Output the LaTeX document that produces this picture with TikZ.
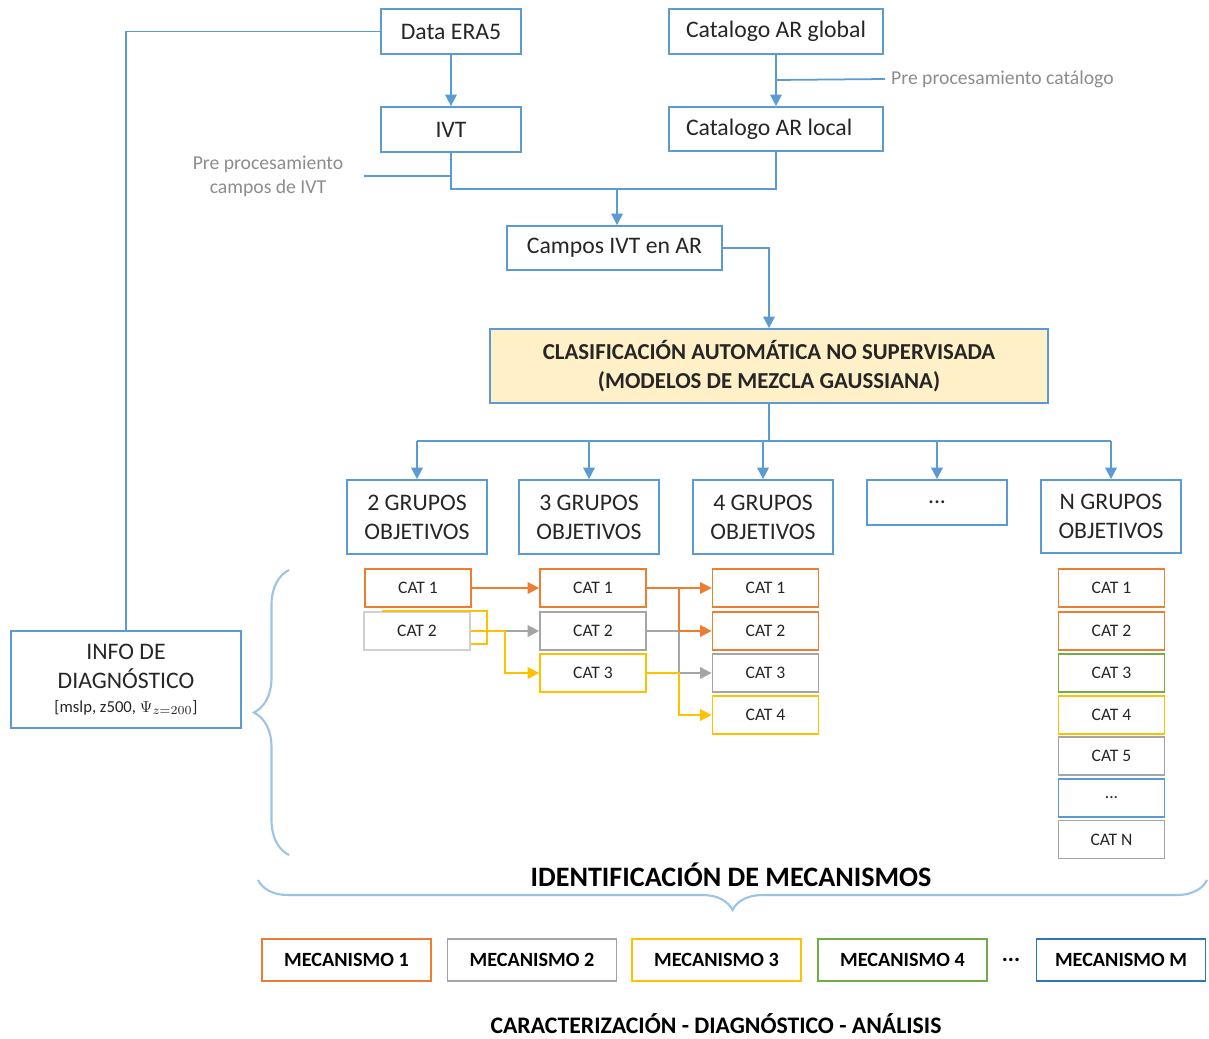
\documentclass[tikz,border=0pt]{standalone}
\usepackage{fontspec}
\setmainfont{Carlito}
\usetikzlibrary{arrows.meta,decorations.pathreplacing,calc}
\definecolor{lblue}{HTML}{5B9BD5}
\definecolor{bblue}{HTML}{9DC3E6}
\definecolor{corg}{HTML}{ED7D31}
\definecolor{cgray}{HTML}{A5A5A5}
\definecolor{lgray}{HTML}{D0D0D0}
\definecolor{cyel}{HTML}{FFC000}
\definecolor{cgrn}{HTML}{70AD47}
\definecolor{cdblue}{HTML}{2E75B6}
\definecolor{yfill}{HTML}{FFF0C8}
\definecolor{txt}{HTML}{262626}
\definecolor{notegray}{HTML}{8C8C8C}

\begin{document}
\begin{tikzpicture}[x=0.02cm,y=-0.02cm,
    >={Triangle[width=6.5pt,length=6.5pt]},
    box/.style={draw=lblue,line width=1pt,inner sep=0pt,align=center,text=txt,font=\fontsize{13.5}{16.5}\selectfont},
    cat/.style={draw=#1,line width=1pt,inner sep=0pt,minimum width=2.12cm,minimum height=0.76cm,text=txt,font=\fontsize{10}{12}\selectfont},
    mech/.style={draw=#1,line width=1pt,inner sep=0pt,minimum width=3.38cm,minimum height=0.84cm,text=black,font=\bfseries\fontsize{11.5}{13}\selectfont},
    wire/.style={draw=lblue,line width=1pt},
    flow/.style={line width=1pt,->},
    note/.style={text=notegray,align=center,font=\fontsize{11.2}{13.7}\selectfont},
    bracket/.style={draw=bblue,line width=1.2pt,decorate},
]
    \useasboundingbox (0,0) rectangle (1209,1038);
    % Input chain
    \node[box,minimum width=2.8cm,minimum height=0.9cm] (era) at (451,31.5) {Data ERA5};
    \node[box,minimum width=4.28cm,minimum height=0.9cm] (catg) at (776,31.5) {Catalogo AR global};
    \node[box,minimum width=2.8cm,minimum height=0.9cm] (ivt) at (451,129.5) {IVT};
    \node[box,minimum width=4.28cm,minimum height=0.88cm,text width=3.6cm,align=flush left] (catl) at (776,129) {Catalogo AR local};
    \node[box,minimum width=4.3cm,minimum height=0.88cm] (campos) at (614.5,248) {Campos IVT en AR};
    \node[note,anchor=west] (precat) at (885,79) {Pre procesamiento catálogo};
    \node[note] (preivt) at (268,176) {Pre procesamiento\\campos de IVT};
    \coordinate (cpre) at (776,80);
    \coordinate (civt) at (451,176);
    \coordinate (join) at (617,189);
    \draw[wire,flow] (era) -- (ivt);
    \draw[wire,flow] (catg) -- (catl);
    \draw[wire] (cpre) -- (precat.west);
    \draw[wire] (ivt.south) |- (join);
    \draw[wire] (catl.south) |- (join);
    \draw[wire] (civt) -- ([xshift=0.3cm]preivt.east);
    \draw[wire,flow] (join) -- (join |- campos.north);
    % Classification
    \node[box,fill=yfill,minimum width=11.16cm,minimum height=1.48cm,font=\bfseries\fontsize{13}{16.5}\selectfont] (gmm) at (769,366) {CLASIFICACIÓN AUTOMÁTICA NO SUPERVISADA\\(MODELOS DE MEZCLA GAUSSIANA)};
    \draw[wire,flow] (campos.east) -| (gmm.north);
    % Groups
    \node[box,minimum width=2.8cm,minimum height=1.48cm] (g2) at (417,517) {2 GRUPOS\\OBJETIVOS};
    \node[box,minimum width=2.8cm,minimum height=1.48cm] (g3) at (589,517) {3 GRUPOS\\OBJETIVOS};
    \node[box,minimum width=2.8cm,minimum height=1.48cm] (g4) at (763,517) {4 GRUPOS\\OBJETIVOS};
    \node[box,minimum width=2.8cm,minimum height=0.9cm] (gd) at (937,502.5) {...};
    \node[box,minimum width=2.8cm,minimum height=1.46cm] (gN) at (1111,516.5) {N GRUPOS\\OBJETIVOS};
    \coordinate (bus) at (769,441);
    \draw[wire] (gmm.south) -- (bus);
    \draw[wire] (bus -| g2.north) -- (bus -| gN.north);
    \foreach \g in {g2,g3,g4,gd,gN}
        \draw[wire,flow] (bus -| \g.north) -- (\g.north);
    % Categories
    \node[cat=corg] (a1) at (418,588) {CAT 1};
    \node[cat=lgray] (a2) at (417,631) {CAT 2};
    \node[cat=corg] (b1) at (593,588) {CAT 1};
    \node[cat=cgray] (b2) at (593,631) {CAT 2};
    \node[cat=cyel] (b3) at (593,673) {CAT 3};
    \node[cat=corg] (c1) at (765.5,588) {CAT 1};
    \node[cat=corg] (c2) at (765.5,631) {CAT 2};
    \node[cat=cgray] (c3) at (765.5,673) {CAT 3};
    \node[cat=cyel] (c4) at (765.5,715) {CAT 4};
    \node[cat=corg] (n1) at (1111.5,588) {CAT 1};
    \node[cat=corg] (n2) at (1111.5,631) {CAT 2};
    \node[cat=cgrn] (n3) at (1111.5,673) {CAT 3};
    \node[cat=cyel] (n4) at (1111.5,715) {CAT 4};
    \node[cat=cgray] (n5) at (1111.5,756) {CAT 5};
    \node[cat=lblue] (n6) at (1111.5,798) {...};
    \node[cat=cgray] (n7) at (1111.5,839.5) {CAT N};
    \coordinate (s1) at ($(a2.east)!0.5!(b2.west)$);
    \coordinate (s2) at ($(b1.east)!0.5!(c1.west)$);
    \draw[flow,corg] (a1) -- (b1);
    \draw[cyel,line width=1pt] ([xshift=-1.78cm]a2.north east) -| ([xshift=0.32cm,yshift=-0.26cm]a2.east) -- ([yshift=-0.26cm]a2.east);
    \draw[cyel,line width=1pt] (a2.east) -- (s1);
    \draw[flow,cgray] (s1) -- (b2.west);
    \draw[flow,cyel] (s1) |- (b3.west);
    \draw[flow,cgray] (b2.east) -- (s2 |- b2.east) |- (c3.west);
    \draw[flow,cyel] (b3.east) -- (s2 |- b3.east) |- (c4.west);
    \draw[flow,corg] (b1) -- (c1);
    \draw[flow,corg] (s2) |- (c2.west);
    % Diagnostic info
    \node[box,minimum width=4.6cm,minimum height=1.94cm] (info) at (126,679.5) {INFO DE\\DIAGNÓSTICO\\[-3pt]{\fontsize{9.5}{11}\selectfont [mslp, z500, $\Psi_{z=200}$]}};
    \draw[wire] (info.north) |- (era.west);
    \draw[bracket,decoration={brace,amplitude=0.7cm}] (289,855) -- (289,570);
    % Mechanisms
    \node[font=\bfseries\fontsize{16}{18}\selectfont] (ident) at (731,875) {IDENTIFICACIÓN DE MECANISMOS};
    \draw[bracket,decoration={brace,amplitude=0.6cm}] (1207,880) -- (258,880);
    \node[mech=corg] (m1) at (346.5,960) {MECANISMO 1};
    \node[mech=cgray] (m2) at (532,960) {MECANISMO 2};
    \node[mech=cyel] (m3) at (716.5,960) {MECANISMO 3};
    \node[mech=cgrn] (m4) at (902.5,960) {MECANISMO 4};
    \node[font=\bfseries\fontsize{13}{14}\selectfont] (mdots) at (1011,960) {...};
    \node[mech=cdblue] (mM) at (1121,960) {MECANISMO M};
    \node[inner sep=1pt,font=\bfseries\fontsize{13.5}{15}\selectfont] (foot) at (716,1024) {CARACTERIZACIÓN - DIAGNÓSTICO - ANÁLISIS};
\end{tikzpicture}
\end{document}
